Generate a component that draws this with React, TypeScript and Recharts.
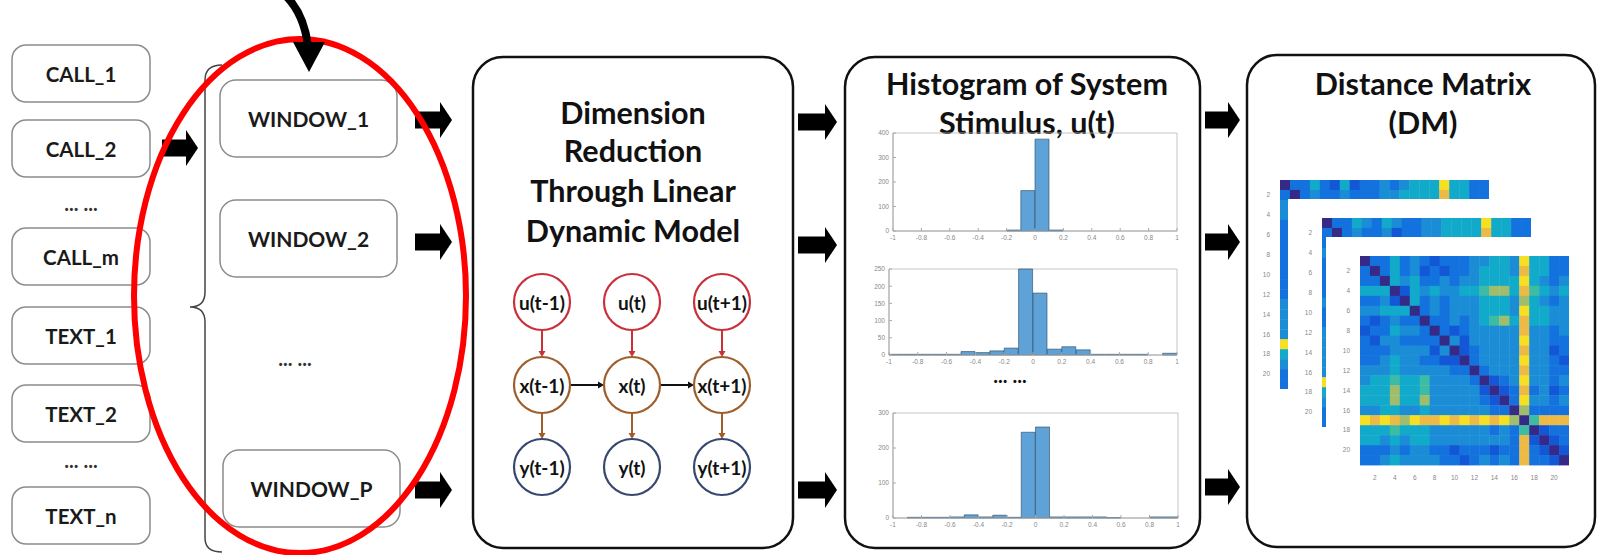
import React from 'react'
import { BarChart, Bar, XAxis, YAxis, ReferenceArea, ScatterChart, Scatter } from 'recharts'

const FONT = 'Lato, "Open Sans", sans-serif'

// histogram bins (width 0.1 from -1 to 1)
const binCenters = [
  -0.95, -0.85, -0.75, -0.65, -0.55, -0.45, -0.35, -0.25, -0.15, -0.05,
  0.05, 0.15, 0.25, 0.35, 0.45, 0.55, 0.65, 0.75, 0.85, 0.95,
]
const xTicks = [-1, -0.8, -0.6, -0.4, -0.2, 0, 0.2, 0.4, 0.6, 0.8, 1]

const hist1Counts = [0, 0, 0, 0, 0, 0, 0, 0, 4, 165, 375, 4, 0, 0, 0, 0, 0, 0, 0, 0]
const hist2Counts = [2, 2, 2, 2, 2, 10, 7, 12, 20, 250, 180, 17, 24, 15, 2, 2, 2, 2, 0, 5]
const hist3Counts = [0, 2, 2, 2, 3, 9, 3, 8, 2, 245, 260, 3, 3, 3, 3, 1, 0, 0, 3, 3]

const hist1Ticks = [0, 100, 200, 300, 400]
const hist2Ticks = [0, 50, 100, 150, 200, 250]
const hist3Ticks = [0, 100, 200, 300]

// distance matrices, levels 0..9 on the parula map
const parula = ['#352a87', '#2338b8', '#1257d6', '#1372dd', '#1a8dd6', '#12aacb', '#3dbba3', '#a0bd6c', '#eeba46', '#f7e024']
const dmTicks = [2, 4, 6, 8, 10, 12, 14, 16, 18, 20]

const dmFront = [
  [0, 3, 3, 5, 3, 4, 3, 2, 3, 3, 3, 4, 4, 5, 5, 4, 9, 5, 5, 3, 3],
  [3, 0, 3, 5, 3, 4, 2, 3, 2, 3, 3, 4, 5, 5, 5, 4, 8, 5, 5, 3, 3],
  [3, 3, 0, 5, 4, 5, 3, 3, 4, 3, 4, 4, 5, 5, 5, 5, 9, 5, 4, 3, 4],
  [5, 5, 5, 0, 2, 5, 4, 5, 4, 4, 5, 5, 6, 7, 7, 5, 8, 6, 5, 4, 5],
  [3, 3, 4, 2, 0, 5, 3, 4, 3, 4, 4, 4, 5, 5, 5, 4, 7, 5, 4, 3, 4],
  [4, 4, 5, 5, 5, 0, 3, 4, 3, 4, 4, 4, 5, 5, 5, 4, 9, 5, 5, 4, 4],
  [3, 2, 3, 4, 3, 3, 0, 3, 3, 4, 3, 4, 5, 6, 7, 5, 8, 5, 5, 4, 4],
  [2, 3, 3, 5, 4, 4, 3, 0, 3, 2, 3, 4, 4, 4, 4, 4, 8, 4, 4, 3, 4],
  [3, 2, 4, 4, 3, 3, 3, 3, 0, 4, 2, 4, 4, 4, 4, 4, 9, 4, 4, 3, 3],
  [3, 3, 3, 4, 4, 4, 4, 2, 4, 0, 2, 3, 4, 4, 4, 4, 8, 4, 4, 2, 3],
  [3, 3, 4, 5, 4, 4, 3, 3, 2, 2, 0, 3, 4, 4, 4, 4, 9, 4, 4, 3, 2],
  [4, 4, 4, 5, 4, 4, 4, 4, 4, 3, 3, 0, 3, 4, 4, 4, 8, 4, 4, 3, 3],
  [4, 5, 5, 6, 5, 5, 6, 4, 4, 4, 4, 3, 0, 2, 3, 4, 9, 4, 4, 3, 4],
  [5, 5, 5, 7, 5, 5, 6, 4, 4, 4, 4, 4, 2, 0, 2, 3, 8, 3, 4, 2, 3],
  [5, 5, 5, 7, 5, 5, 7, 4, 4, 4, 4, 4, 3, 2, 0, 3, 9, 4, 4, 3, 4],
  [4, 4, 5, 5, 4, 4, 5, 4, 4, 4, 4, 4, 4, 3, 3, 0, 7, 3, 3, 3, 3],
  [9, 8, 9, 8, 7, 9, 8, 8, 9, 8, 9, 8, 9, 8, 9, 7, 0, 6, 8, 8, 8],
  [5, 5, 5, 6, 5, 5, 5, 4, 4, 4, 4, 4, 4, 3, 4, 3, 6, 0, 2, 3, 3],
  [5, 5, 4, 5, 4, 5, 5, 4, 4, 4, 4, 4, 4, 4, 4, 3, 8, 2, 0, 2, 3],
  [3, 3, 3, 4, 3, 4, 4, 3, 3, 2, 3, 3, 3, 2, 3, 3, 8, 3, 2, 0, 2],
  [3, 3, 4, 5, 4, 4, 4, 4, 3, 3, 2, 3, 4, 3, 4, 3, 8, 3, 3, 2, 0],
]

// only the top two rows and first column of the back matrices show
const dmBack1Row0 = [0, 3, 3, 5, 3, 2, 5, 2, 3, 3, 4, 3, 4, 5, 5, 5, 9, 5, 5, 3, 3]
const dmBack1Row1 = [3, 0, 3, 4, 3, 3, 4, 3, 3, 3, 4, 4, 5, 5, 5, 5, 8, 5, 5, 3, 3]
const dmBack1Col0 = [0, 3, 4, 4, 3, 3, 3, 3, 3, 3, 3, 3, 4, 4, 4, 4, 9, 5, 4, 3, 3]
const dmBack2Row0 = [0, 3, 3, 5, 4, 3, 5, 4, 3, 3, 4, 4, 5, 5, 5, 5, 9, 5, 5, 3, 3]
const dmBack2Row1 = [3, 0, 3, 4, 3, 3, 4, 2, 3, 3, 4, 4, 5, 5, 5, 5, 8, 5, 5, 3, 3]
const dmBack2Col0 = [0, 3, 3, 4, 3, 3, 3, 3, 4, 3, 3, 4, 4, 4, 4, 4, 9, 5, 4, 3, 3]

const callBoxes = [
  { label: 'CALL_1', y: 45 },
  { label: 'CALL_2', y: 120 },
  { label: 'CALL_m', y: 228 },
  { label: 'TEXT_1', y: 307 },
  { label: 'TEXT_2', y: 385 },
  { label: 'TEXT_n', y: 487 },
]
const windowBoxes = [
  { label: 'WINDOW_1', x: 220, y: 80 },
  { label: 'WINDOW_2', x: 220, y: 200 },
  { label: 'WINDOW_P', x: 223, y: 450 },
]

const axisTick = { fontSize: 6.5, fill: '#888', fontFamily: 'Arial, sans-serif' }

function Histogram({ left, top, width, height, counts, yMax, yTicks }: any) {
  const data = binCenters.map((x, i) => ({ x, n: counts[i] }))
  const yw = 24
  return (
    <div style={{ position: 'absolute', left: left - yw, top: top - 4 }}>
      <BarChart width={width + yw + 6} height={height + 4 + 13} data={data}
        margin={{ top: 4, right: 6, left: 0, bottom: 0 }} barCategoryGap={0}>
        <XAxis dataKey="x" type="number" domain={[-1, 1]} ticks={xTicks} height={13} interval={0}
          tick={axisTick} tickSize={-3} tickMargin={7} axisLine={{ stroke: '#aaa' }} tickLine={{ stroke: '#aaa' }} />
        <YAxis type="number" domain={[0, yMax]} ticks={yTicks} width={yw} interval={0}
          tick={axisTick} tickSize={-3} tickMargin={7} axisLine={{ stroke: '#aaa' }} tickLine={{ stroke: '#aaa' }} />
        <ReferenceArea x1={-1} x2={1} y1={0} y2={yMax} fill="none" stroke="#b8b8b8" strokeWidth={0.8} />
        <Bar dataKey="n" fill="#5fa2d8" stroke="#244863" strokeWidth={0.6} isAnimationActive={false} />
      </BarChart>
    </div>
  )
}

function Heatmap({ left, top, plotLeft, plotTop, cells, showX, white, w, h }: any) {
  const size = 209
  const cell = size / 21
  const yw = plotLeft - left
  const mt = plotTop - top
  const xh = showX ? 16 : 0
  const shape = (p: any) => (
    <rect x={p.cx - cell / 2} y={p.cy - cell / 2} width={cell + 0.4} height={cell + 0.4} fill={parula[p.payload.v]} />
  )
  return (
    <div style={{ position: 'absolute', left, top, width: w, height: h, background: white ? '#fff' : 'transparent' }}>
      <ScatterChart width={yw + size} height={mt + size + xh} margin={{ top: mt, right: 0, left: 0, bottom: 0 }}>
        <XAxis dataKey="c" type="number" domain={[0.5, 21.5]} ticks={dmTicks} hide={!showX} height={xh} interval={0}
          axisLine={false} tickLine={false} tick={axisTick} tickMargin={4} />
        <YAxis dataKey="r" type="number" domain={[0.5, 21.5]} ticks={dmTicks} reversed width={yw} interval={0}
          axisLine={false} tickLine={false} tick={axisTick} tickMargin={4} />
        <Scatter data={cells} shape={shape} isAnimationActive={false} />
      </ScatterChart>
    </div>
  )
}

function backCells(row0: number[], row1: number[], col0: number[]) {
  const out: any[] = []
  row0.forEach((v, i) => out.push({ c: i + 1, r: 1, v }))
  row1.forEach((v, i) => out.push({ c: i + 1, r: 2, v }))
  col0.forEach((v, i) => { if (i > 1) out.push({ c: 1, r: i + 1, v }) })
  return out
}

const frontCells = dmFront.flatMap((row, r) => row.map((v, c) => ({ c: c + 1, r: r + 1, v })))

function BlockArrow({ x0, x1, y }: { x0: number; x1: number; y: number }) {
  const xh = x1 - 12
  return (
    <g fill="#000">
      <rect x={x0} y={y - 8.5} width={xh - x0 + 1} height={17} />
      <polygon points={`${xh},${y - 18} ${x1},${y} ${xh},${y + 18}`} />
    </g>
  )
}

const nodeCols = [542, 632, 722]
const nodeRows = [302, 385, 467]
const nodeR = 28
const nodeNames = [
  ['u(t-1)', 'u(t)', 'u(t+1)'],
  ['x(t-1)', 'x(t)', 'x(t+1)'],
  ['y(t-1)', 'y(t)', 'y(t+1)'],
]
const nodeColors = ['#c8313a', '#9e5e2c', '#37476e']

function Graph() {
  const items: any[] = []
  nodeCols.forEach((cx, ci) => {
    for (let r = 0; r < 2; r++) {
      const y0 = nodeRows[r] + nodeR
      const y1 = nodeRows[r + 1] - nodeR
      items.push(
        <g key={`v${ci}${r}`}>
          <line x1={cx} y1={y0} x2={cx} y2={y1 - 5} stroke={nodeColors[r]} strokeWidth={2} />
          <polygon points={`${cx - 3.5},${y1 - 6} ${cx + 3.5},${y1 - 6} ${cx},${y1}`} fill={nodeColors[r]} />
        </g>
      )
    }
    if (ci < 2) {
      const x0 = cx + nodeR
      const x1 = nodeCols[ci + 1] - nodeR
      const y = nodeRows[1]
      items.push(
        <g key={`h${ci}`}>
          <line x1={x0} y1={y} x2={x1 - 5} y2={y} stroke="#111" strokeWidth={2} />
          <polygon points={`${x1 - 6},${y - 3.5} ${x1 - 6},${y + 3.5} ${x1},${y}`} fill="#111" />
        </g>
      )
    }
    nodeRows.forEach((cy, ri) => {
      items.push(
        <g key={`n${ci}${ri}`}>
          <circle cx={cx} cy={cy} r={nodeR} fill="#fff" stroke={nodeColors[ri]} strokeWidth={2.2} />
          <text x={cx} y={cy} textAnchor="middle" dominantBaseline="central" fontSize={19} fontWeight={700} fill="#111">
            {nodeNames[ri][ci]}
          </text>
        </g>
      )
    })
  })
  return <g>{items}</g>
}

export default function App() {
  const title = { fontSize: 30.5, fontWeight: 700, fill: '#111', textAnchor: 'middle' as const, dominantBaseline: 'central' as const }
  const dots = { textAnchor: 'middle' as const, dominantBaseline: 'central' as const, fontSize: 20, fontWeight: 700, fill: '#333' }
  return (
    <div style={{ position: 'absolute', left: 0, top: 0, width: 1597, height: 555, background: '#fff', fontFamily: FONT, overflow: 'hidden' }}>
      <svg width={1597} height={555} style={{ position: 'absolute', left: 0, top: 0 }} fontFamily={FONT}>
        {callBoxes.map((b) => (
          <g key={b.label}>
            <rect x={12} y={b.y} width={138} height={57} rx={14} fill="#fff" stroke="#8c8c8c" strokeWidth={1.5} />
            <text x={81} y={b.y + 28.5} textAnchor="middle" dominantBaseline="central" fontSize={20.5} fontWeight={700} fill="#1a1a1a">{b.label}</text>
          </g>
        ))}
        <text x={81} y={203} {...dots}>... ...</text>
        <text x={81} y={460} {...dots}>... ...</text>
        <BlockArrow x0={162} x1={198} y={148} />
        <path d="M222,65 Q205,65 205,80 L205,292 Q205,307 190,307 Q205,307 205,322 L205,538 Q205,552 222,552"
          fill="none" stroke="#444" strokeWidth={1.5} />
        {windowBoxes.map((b) => (
          <g key={b.label}>
            <rect x={b.x} y={b.y} width={177} height={77} rx={16} fill="#fff" stroke="#8c8c8c" strokeWidth={1.5} />
            <text x={b.x + 88.5} y={b.y + 38.5} textAnchor="middle" dominantBaseline="central" fontSize={21} fontWeight={700} fill="#1a1a1a">{b.label}</text>
          </g>
        ))}
        <text x={295} y={358} {...dots}>... ...</text>
        <BlockArrow x0={415} x1={452} y={120} />
        <BlockArrow x0={415} x1={452} y={242} />
        <BlockArrow x0={415} x1={452} y={490} />

        <rect x={473} y={57} width={320} height={491} rx={30} fill="#fff" stroke="#111" strokeWidth={2.5} />
        <text x={633} y={112} {...title}>Dimension</text>
        <text x={633} y={150} {...title}>Reduction</text>
        <text x={633} y={190} {...title}>Through Linear</text>
        <text x={633} y={230} {...title}>Dynamic Model</text>
        <Graph />
        <BlockArrow x0={798} x1={837} y={122} />
        <BlockArrow x0={798} x1={837} y={245} />
        <BlockArrow x0={798} x1={837} y={490} />

        <rect x={845} y={57} width={355} height={491} rx={30} fill="#fff" stroke="#111" strokeWidth={2.5} />
        <text x={1027} y={83} {...title}>Histogram of System</text>
        <text x={1027} y={122} {...title}>Stimulus, u(t)</text>
        <text x={1010} y={375} {...dots} fill="#111">... ...</text>
        <BlockArrow x0={1205} x1={1240} y={120} />
        <BlockArrow x0={1205} x1={1240} y={242} />
        <BlockArrow x0={1205} x1={1240} y={487} />

        <rect x={1247} y={55} width={348} height={492} rx={30} fill="#fff" stroke="#111" strokeWidth={2.5} />
        <text x={1423} y={83} {...title}>Distance Matrix</text>
        <text x={1423} y={122} {...title}>(DM)</text>

        <ellipse cx={300} cy={296} rx={166} ry={257} fill="none" stroke="#ff0000" strokeWidth={6} />
        <path d="M286,-4 Q304,14 308,46" fill="none" stroke="#000" strokeWidth={8} />
        <polygon points="293,42 325,42 309,72" fill="#000" />
      </svg>

      <Histogram left={893} top={133} width={284} height={98} counts={hist1Counts} yMax={400} yTicks={hist1Ticks} />
      <Histogram left={889} top={269} width={288} height={86} counts={hist2Counts} yMax={250} yTicks={hist2Ticks} />
      <Histogram left={893} top={413} width={285} height={105} counts={hist3Counts} yMax={300} yTicks={hist3Ticks} />

      <Heatmap left={1262} top={176} plotLeft={1280} plotTop={180} w={240} h={220}
        cells={backCells(dmBack1Row0, dmBack1Row1, dmBack1Col0)} />
      <Heatmap left={1288} top={199} plotLeft={1322} plotTop={218} w={250} h={240} white
        cells={backCells(dmBack2Row0, dmBack2Row1, dmBack2Col0)} />
      <Heatmap left={1326} top={237} plotLeft={1360} plotTop={256} w={250} h={245} white showX
        cells={frontCells} />
    </div>
  )
}
